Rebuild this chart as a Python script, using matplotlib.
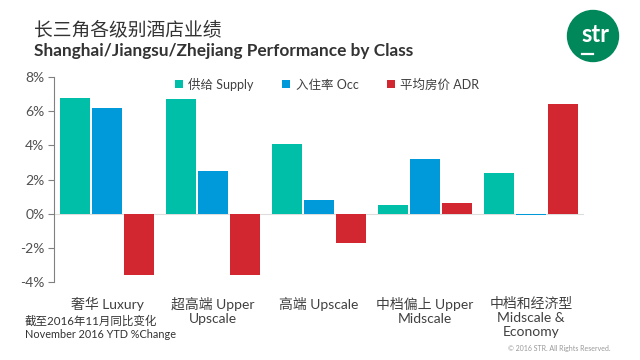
import numpy as np
import matplotlib.pyplot as plt
from matplotlib.patches import Circle

plt.rcParams['font.family'] = ['Lato', 'Noto Sans CJK SC', 'DejaVu Sans']

# ------------------------------------------------------------
# Data
# ------------------------------------------------------------
categories = [
    "奢华 Luxury",
    "超高端 Upper\nUpscale",
    "高端 Upscale",
    "中档偏上 Upper\nMidscale",
    "中档和经济型\nMidscale &\nEconomy",
]
supply = [6.8, 6.7, 4.1, 0.5, 2.4]
occ = [6.2, 2.5, 0.8, 3.2, -0.1]
adr = [-3.6, -3.6, -1.7, 0.6, 6.4]

series_labels = ["供给 Supply", "入住率 Occ", "平均房价 ADR"]
colors = ["#00BFA9", "#0099DA", "#D22630"]
yticks = [-4, -2, 0, 2, 4, 6, 8]

TEXT = "#404040"
W, H = 640, 360


def fx(px):
    return px / W


def fy(py):
    return 1 - py / H


def main() -> None:
    fig = plt.figure(figsize=(6.4, 3.6), dpi=100)
    ax = fig.add_axes([fx(54), fy(282), fx(530), 205 / H])

    x = np.arange(len(categories))
    width = 0.3
    handles = []
    for i, (vals, color, label) in enumerate(zip([supply, occ, adr], colors, series_labels)):
        h = ax.bar(x + (i - 1) * width, vals, width=width * 0.94,
                   color=color, label=label, zorder=3)
        handles.append(h)

    ax.set_xlim(-0.5, len(categories) - 0.5)
    ax.set_ylim(-4, 8)
    ax.set_yticks(yticks)
    ax.set_yticklabels([f"{v}%" for v in yticks], color="#505050", fontsize=10)
    ax.axhline(0, color="#DDDDDD", linewidth=0.8, zorder=2)

    for side in ["top", "right", "bottom"]:
        ax.spines[side].set_visible(False)
    ax.spines["left"].set_color("#808080")
    ax.spines["left"].set_linewidth(0.8)
    ax.tick_params(axis="y", direction="out", length=4, color="#808080", pad=3)

    ax.set_xticks(x)
    ax.set_xticklabels(categories, color=TEXT, fontsize=10, linespacing=1.2)
    ax.tick_params(axis="x", length=0, pad=11)

    fig.legend(handles=handles, loc="center left",
               bbox_to_anchor=(fx(175), fy(84)),
               ncol=3, frameon=False, fontsize=9, handlelength=0.6,
               handleheight=0.6, columnspacing=2.3, handletextpad=0.45,
               borderpad=0, borderaxespad=0, labelcolor=TEXT)

    # Titles
    fig.text(fx(34), fy(30), "长三角各级别酒店业绩", fontsize=13.5, color="#333333",
             va="center", ha="left", family=["Noto Sans CJK SC"])
    fig.text(fx(34), fy(51), "Shanghai/Jiangsu/Zhejiang Performance by Class",
             fontsize=12.4, fontweight="bold", color="#333333", va="center", ha="left")

    # Footnotes
    fig.text(fx(25), fy(321), "截至2016年11月同比变化", fontsize=8.3, color="#333333",
             va="center", ha="left")
    fig.text(fx(25), fy(335), "November 2016 YTD %Change", fontsize=7.8, color="#333333",
             va="center", ha="left")
    fig.text(fx(611), fy(348), "© 2016 STR. All Rights Reserved.", fontsize=5,
             color="#999999", va="center", ha="right")

    # STR logo, drawn in pixel coordinates
    over = fig.add_axes([0, 0, 1, 1], zorder=-1)
    over.set_xlim(0, W)
    over.set_ylim(H, 0)
    over.axis("off")
    over.add_patch(Circle((593, 36), 25.5, color="#00875A"))
    over.text(595, 34, "str", color="white", fontsize=17, fontweight="bold",
              ha="center", va="center")
    over.plot([582, 593], [54, 54], color="white", linewidth=1.6)

    fig.savefig("out.png", dpi=100)
    plt.close(fig)


if __name__ == "__main__":
    main()
